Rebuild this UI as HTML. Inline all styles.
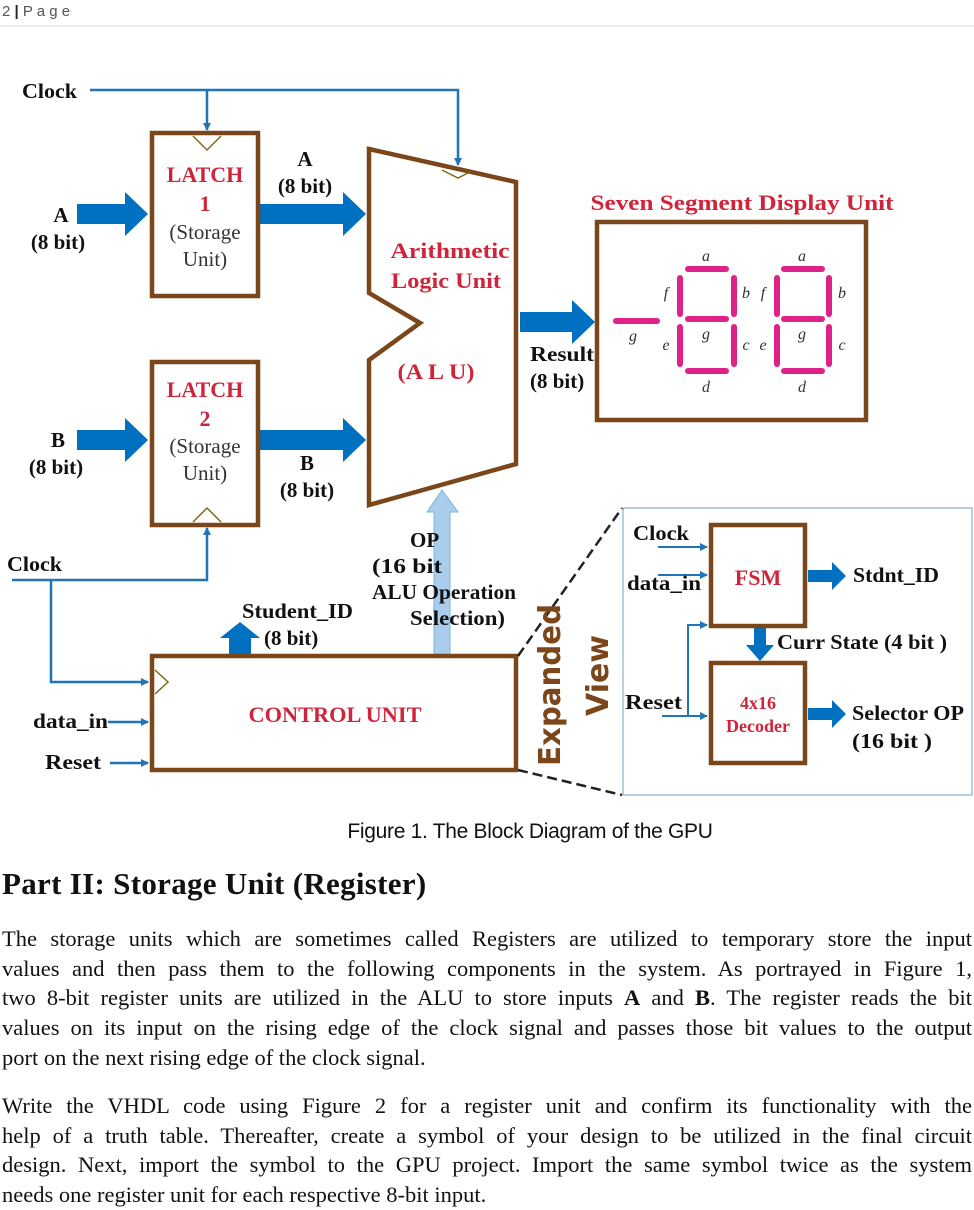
<!DOCTYPE html>
<html><head><meta charset="utf-8"><style>
html,body{margin:0;padding:0;background:#fff;}
body{width:974px;height:1210px;position:relative;overflow:hidden;}
svg{position:absolute;left:0;top:0;}
.cap{position:absolute;left:0;width:1060px;top:820px;text-align:center;font-family:"Liberation Sans",sans-serif;font-size:21px;color:#111;letter-spacing:-0.3px;}
h2{position:absolute;left:2px;top:866px;margin:0;font-family:"Liberation Serif",serif;font-size:31px;font-weight:bold;color:#111;letter-spacing:0.3px;}
.p{position:absolute;left:2px;width:970px;font-family:"Liberation Serif",serif;font-size:22.5px;line-height:29.7px;color:#111;margin:0;}
.p span{display:block;text-align:justify;text-align-last:justify;white-space:nowrap;}
.p span.l{text-align-last:left;}
</style></head><body>
<svg width="974" height="1210" viewBox="0 0 974 1210" font-family="Liberation Serif, serif">
<text x="2" y="16" font-family="Liberation Sans, sans-serif" font-size="15" fill="#555">2 <tspan font-weight="bold" fill="#222">|</tspan> P a g e</text>
<line x1="0" y1="26" x2="974" y2="26" stroke="#ddd" stroke-width="1"/>
<defs>
<marker id="ah" markerWidth="8" markerHeight="8" refX="7" refY="4" orient="auto" markerUnits="userSpaceOnUse"><path d="M0,0 L8,4 L0,8 z" fill="#1f75b8"/></marker>
</defs>
<g stroke="#1f75b8" stroke-width="2.5" fill="none">
<polyline points="90,90 458,90 458,165" marker-end="url(#ah)"/>
<line x1="207" y1="90" x2="207" y2="130" marker-end="url(#ah)"/>
<polyline points="12,580 207,580 207,528" marker-end="url(#ah)"/>
<polyline points="51,580 51,682 148,682" marker-end="url(#ah)"/>
<line x1="108" y1="722" x2="148" y2="722" marker-end="url(#ah)"/>
<line x1="110" y1="763" x2="148" y2="763" marker-end="url(#ah)"/>
</g>
<g stroke="#1f75b8" stroke-width="2" fill="none">
<line x1="658" y1="547" x2="707" y2="547" marker-end="url(#ah)"/>
<line x1="658" y1="575" x2="707" y2="575" marker-end="url(#ah)"/>
<line x1="662" y1="716" x2="707" y2="716" marker-end="url(#ah)"/>
<polyline points="688,716 688,625 707,625" marker-end="url(#ah)"/>
</g>
<g fill="#0070c0">
<path d="M77,204 L125,204 L125,192 L148,214 L125,236 L125,224 L77,224 z"/>
<path d="M260,204 L343,204 L343,192 L366,214 L343,236 L343,224 L260,224 z"/>
<path d="M77,430 L125,430 L125,418 L148,440 L125,462 L125,450 L77,450 z"/>
<path d="M260,430 L343,430 L343,418 L366,440 L343,462 L343,450 L260,450 z"/>
<path d="M520,312 L572,312 L572,300 L595,322 L572,344 L572,332 L520,332 z"/>
<path d="M229,655 L229,638 L220,638 L240,622 L260,638 L251,638 L251,655 z"/>
<path d="M808,570 L832,570 L832,562 L846,576 L832,590 L832,582 L808,582 z"/>
<path d="M808,708 L832,708 L832,700 L846,714 L832,728 L832,720 L808,720 z"/>
<path d="M754,627 L766,627 L766,645 L774,645 L760,661 L746,645 L754,645 z"/>
</g>
<path d="M434,655 L434,512 L427,512 L442,490 L458,512 L450,512 L450,655 z" fill="#a9cdea" stroke="#7fb3dc" stroke-width="1"/>
<g stroke="#7b4619" stroke-width="4.5" fill="none">
<rect x="152" y="133" width="106" height="163"/>
<rect x="152" y="362" width="106" height="163"/>
<polygon points="369,149 516,182 516,464 369,505 369,360 420,323 369,293"/>
<rect x="597" y="222" width="269" height="198"/>
<rect x="152" y="656" width="364" height="114"/>
<rect x="711" y="525" width="94" height="101"/>
<rect x="711" y="663" width="94" height="100"/>
</g>
<g stroke="#7a6a1a" stroke-width="1.5" fill="none">
<polyline points="193,136 207,150 221,136"/>
<polyline points="193,522 207,508 221,522"/>
<polyline points="442,170 458,178 470,172"/>
<polyline points="155,670 168,682 155,694"/>
</g>
<rect x="623" y="508" width="349" height="287" fill="none" stroke="#8ab0c8" stroke-width="1.2"/>
<g stroke="#222" stroke-width="2.5" stroke-dasharray="10,5">
<line x1="518" y1="656" x2="622" y2="508"/>
<line x1="518" y1="770" x2="622" y2="795"/>
</g>
<g stroke="#e0218a" stroke-width="6" stroke-linecap="round">
<line x1="616" y1="321" x2="657" y2="321"/>
<line x1="688" y1="269" x2="726" y2="269"/><line x1="688" y1="319" x2="726" y2="319"/><line x1="688" y1="371" x2="726" y2="371"/>
<line x1="680" y1="278" x2="680" y2="314"/><line x1="680" y1="327" x2="680" y2="364"/>
<line x1="734" y1="278" x2="734" y2="314"/><line x1="734" y1="327" x2="734" y2="364"/>
<line x1="784" y1="269" x2="822" y2="269"/><line x1="784" y1="319" x2="822" y2="319"/><line x1="784" y1="371" x2="822" y2="371"/>
<line x1="777" y1="278" x2="777" y2="314"/><line x1="777" y1="327" x2="777" y2="364"/>
<line x1="829" y1="278" x2="829" y2="314"/><line x1="829" y1="327" x2="829" y2="364"/>
</g>
<g font-style="italic" font-size="16" fill="#333" text-anchor="middle">
<text x="706" y="261">a</text><text x="666" y="298">f</text><text x="746" y="298">b</text><text x="706" y="339">g</text><text x="666" y="350">e</text><text x="746" y="350">c</text><text x="706" y="392">d</text>
<text x="802" y="261">a</text><text x="763" y="298">f</text><text x="842" y="298">b</text><text x="802" y="339">g</text><text x="763" y="350">e</text><text x="842" y="350">c</text><text x="802" y="392">d</text>
<text x="633" y="341">g</text>
</g>
<g font-weight="bold" font-size="21" fill="#111">
<text x="22" y="98" textLength="55" lengthAdjust="spacingAndGlyphs">Clock</text>
<text x="61" y="222" text-anchor="middle">A</text><text x="58" y="249" text-anchor="middle">(8 bit)</text>
<text x="58" y="447" text-anchor="middle">B</text><text x="56" y="474" text-anchor="middle">(8 bit)</text>
<text x="305" y="166" text-anchor="middle">A</text><text x="305" y="193" text-anchor="middle">(8 bit)</text>
<text x="307" y="470" text-anchor="middle">B</text><text x="307" y="497" text-anchor="middle">(8 bit)</text>
<text x="530" y="361" textLength="64" lengthAdjust="spacingAndGlyphs">Result</text><text x="530" y="388">(8 bit)</text>
<text x="7" y="571" textLength="55" lengthAdjust="spacingAndGlyphs">Clock</text>
<text x="242" y="618" textLength="111" lengthAdjust="spacingAndGlyphs">Student_ID</text><text x="264" y="645">(8 bit)</text>
<text x="410" y="547">OP</text><text x="372" y="573" textLength="70" lengthAdjust="spacingAndGlyphs">(16 bit</text><text x="372" y="599" textLength="144" lengthAdjust="spacingAndGlyphs">ALU Operation</text><text x="410" y="625" textLength="95" lengthAdjust="spacingAndGlyphs">Selection)</text>
<text x="33" y="728" textLength="75" lengthAdjust="spacingAndGlyphs">data_in</text><text x="45" y="769" textLength="56" lengthAdjust="spacingAndGlyphs">Reset</text>
<text x="633" y="540" textLength="56" lengthAdjust="spacingAndGlyphs">Clock</text><text x="627" y="590" textLength="74" lengthAdjust="spacingAndGlyphs">data_in</text><text x="625" y="709" textLength="57" lengthAdjust="spacingAndGlyphs">Reset</text>
<text x="853" y="582" textLength="86" lengthAdjust="spacingAndGlyphs">Stdnt_ID</text>
<text x="777" y="649" textLength="170" lengthAdjust="spacingAndGlyphs">Curr State (4 bit )</text>
<text x="852" y="720" textLength="112" lengthAdjust="spacingAndGlyphs">Selector OP</text><text x="852" y="748" textLength="80" lengthAdjust="spacingAndGlyphs">(16 bit )</text>
</g>
<g font-size="21" fill="#333" text-anchor="middle">
<text x="205" y="239">(Storage</text><text x="205" y="266">Unit)</text>
<text x="205" y="453">(Storage</text><text x="205" y="480">Unit)</text>
</g>
<g font-weight="bold" fill="#d0243a" text-anchor="middle" font-size="22">
<text x="205" y="182">LATCH</text><text x="205" y="211">1</text>
<text x="205" y="397">LATCH</text><text x="205" y="426">2</text>
<text x="450" y="258" textLength="119" lengthAdjust="spacingAndGlyphs">Arithmetic</text><text x="446" y="288" textLength="110" lengthAdjust="spacingAndGlyphs">Logic Unit</text>
<text x="436" y="379" textLength="77" lengthAdjust="spacingAndGlyphs">(A L U)</text>
<text x="742" y="210" textLength="303" lengthAdjust="spacingAndGlyphs">Seven Segment Display Unit</text>
<text x="335" y="722" textLength="173" lengthAdjust="spacingAndGlyphs">CONTROL UNIT</text>
<text x="758" y="585">FSM</text>
<text x="758" y="709" font-size="18">4x16</text><text x="758" y="732" font-size="18">Decoder</text>
</g>
<g fill="#7b4619" font-family="DejaVu Sans, sans-serif" font-weight="bold" font-size="30">
<text transform="translate(560,766) rotate(-90)" textLength="162" lengthAdjust="spacingAndGlyphs">Expanded</text>
<text transform="translate(608,716) rotate(-90)">View</text>
</g>
</svg>
<div class="cap">Figure 1. The Block Diagram of the GPU</div>
<h2>Part II: Storage Unit (Register)</h2>
<div class="p" style="top:924px">
<span>The storage units which are sometimes called Registers are utilized to temporary store the input</span>
<span>values and then pass them to the following components in the system. As portrayed in Figure 1,</span>
<span>two 8-bit register units are utilized in the ALU to store inputs <b>A</b> and <b>B</b>. The register reads the bit</span>
<span>values on its input on the rising edge of the clock signal and passes those bit values to the output</span>
<span class="l">port on the next rising edge of the clock signal.</span>
</div>
<div class="p" style="top:1091px">
<span>Write the VHDL code using Figure 2 for a register unit and confirm its functionality with the</span>
<span>help of a truth table. Thereafter, create a symbol of your design to be utilized in the final circuit</span>
<span>design. Next, import the symbol to the GPU project. Import the same symbol twice as the system</span>
<span class="l">needs one register unit for each respective 8-bit input.</span>
</div>
</body></html>
